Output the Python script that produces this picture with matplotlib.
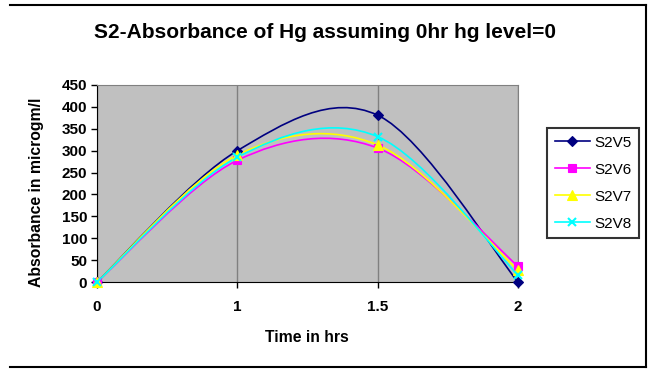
import matplotlib.pyplot as plt
from matplotlib.path import Path
from matplotlib.patches import PathPatch
from matplotlib.lines import Line2D

# Datos
tiempos = ['0', '1', '1.5', '2']
series = ['S2V5', 'S2V6', 'S2V7', 'S2V8']
s2v5 = [0, 300, 381, 0]
s2v6 = [0, 278, 306, 36]
s2v7 = [0, 290, 313, 27]
s2v8 = [0, 285, 332, 16]

colores = ['#000080', '#FF00FF', '#FFFF00', '#00FFFF']
marcadores = ['D', 's', '^', 'x']
tamanos = [5, 6, 7, 6]

plt.rcParams['font.family'] = ['Liberation Sans', 'DejaVu Sans']


def curva_suave(xs, ys):
    """Camino bezier estilo Excel (Catmull-Rom) que pasa por los puntos."""
    n = len(xs)
    verts = [(xs[0], ys[0])]
    codes = [Path.MOVETO]
    for i in range(n - 1):
        a = max(i - 1, 0)
        b = min(i + 2, n - 1)
        c1 = (xs[i] + (xs[i + 1] - xs[a]) / 6, ys[i] + (ys[i + 1] - ys[a]) / 6)
        c2 = (xs[i + 1] - (xs[b] - xs[i]) / 6, ys[i + 1] - (ys[b] - ys[i]) / 6)
        verts += [c1, c2, (xs[i + 1], ys[i + 1])]
        codes += [Path.CURVE4] * 3
    return Path(verts, codes)


fig = plt.figure(figsize=(6.5, 3.69), dpi=100)
ax = fig.add_axes([97 / 650, 1 - 282 / 369, 421 / 650, 197 / 369])
ax.set_facecolor('#C0C0C0')

xs = list(range(len(tiempos)))
for nombre, ys, col, mk, ms in zip(series, [s2v5, s2v6, s2v7, s2v8], colores, marcadores, tamanos):
    ax.add_patch(PathPatch(curva_suave(xs, ys), facecolor='none', edgecolor=col,
                           lw=1.2, zorder=3, clip_on=False))
    ax.plot(xs, ys, linestyle='none', marker=mk, color=col, markersize=ms,
            markeredgewidth=1.5 if mk == 'x' else 0.8, zorder=4, clip_on=False)

ax.set_xlim(0, len(tiempos) - 1)
ax.set_ylim(0, 450)
ax.set_xticks(xs)
ax.set_xticklabels(tiempos)
ax.set_yticks(range(0, 451, 50))
ax.grid(axis='x', color='#808080', lw=1)
ax.set_axisbelow(True)

for lado in ['top', 'right']:
    ax.spines[lado].set_color('#808080')
for lado in ['left', 'bottom']:
    ax.spines[lado].set_color('black')
ax.tick_params(axis='both', direction='out', length=4, width=1, colors='black',
               labelsize=11, pad=3)
ax.tick_params(axis='x', pad=9)
for t in ax.get_xticklabels() + ax.get_yticklabels():
    t.set_fontweight('bold')

fig.text(325 / 650, 1 - 33 / 369, 'S2-Absorbance of Hg assuming 0hr hg level=0',
         ha='center', va='center', fontsize=15, fontweight='bold')
fig.text(37 / 650, 1 - 192 / 369, 'Absorbance in microgm/l', rotation=90,
         ha='center', va='center', fontsize=11.3, fontweight='bold')
fig.text(307 / 650, 1 - 338 / 369, 'Time in hrs', ha='center', va='center',
         fontsize=11.3, fontweight='bold')

# Leyenda
handles = [Line2D([], [], color=c, marker=m, markersize=s, lw=1.2,
                  markeredgewidth=1.5 if m == 'x' else 0.8)
           for c, m, s in zip(colores, marcadores, tamanos)]
leg = fig.legend(handles, series, loc='upper left',
                 bbox_to_anchor=(547 / 650, 1 - 128 / 369), borderaxespad=0,
                 frameon=True, fancybox=False, edgecolor='black', handlelength=2.3,
                 labelspacing=0.85, borderpad=0.5, handletextpad=0.3,
                 prop={'size': 11})
leg.get_frame().set_linewidth(1.5)

# Borde del area del grafico
for xy in [([10 / 650, 646 / 650], [1 - 5 / 369] * 2),
           ([646 / 650] * 2, [1 - 5 / 369, 1 - 367 / 369]),
           ([10 / 650, 646 / 650], [1 - 367 / 369] * 2)]:
    fig.add_artist(Line2D(xy[0], xy[1], color='black', lw=1.5))

fig.savefig('out.png', dpi=100)
